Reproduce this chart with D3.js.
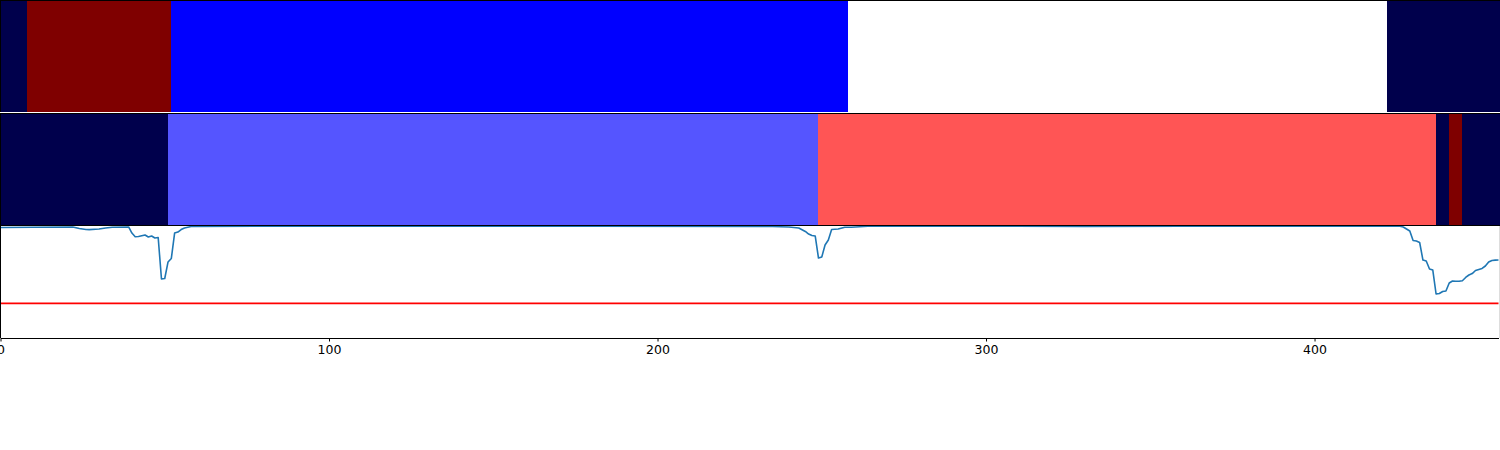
<!DOCTYPE html>
<html>
<head>
<meta charset="utf-8">
<script src="https://cdn.jsdelivr.net/npm/d3@7"></script>
<style>
  html, body { margin: 0; padding: 0; background: #fff; }
  svg { display: block; }
</style>
</head>
<body>
<svg id="chart" width="1500" height="450"></svg>
<script>
// ---- data ----
const xMax = 456;
// panel 1 (state sequence, 5 levels 0..4)
const stripe1Starts = [0, 8, 52, 258, 422];
const stripe1Labels = [0, 4, 1, 2, 0];
const stripe1Levels = 4;
// panel 2 (state sequence, 4 levels 0..3)
const stripe2Starts = [0, 51, 249, 437, 441, 445];
const stripe2Labels = [0, 1, 2, 0, 3, 0];
const stripe2Levels = 3;
// panel 3 line
const lineX = [0, 10, 22, 24, 26, 27, 30, 32, 34, 39, 40, 41, 42, 43, 44, 45, 46, 47, 48, 49, 50, 51, 52, 53, 54, 55, 56, 58, 80,
  120, 180, 235, 240, 243, 245, 246, 247, 248, 249, 250, 251, 252, 253, 255, 257, 259, 264, 300, 330, 360, 400, 426,
  427, 429, 430, 431, 432, 433, 434, 435, 436, 437, 438, 439, 440, 441, 442, 443, 444, 445, 446, 447, 448, 449, 450,
  451, 452, 453, 454, 455, 456];
const lineY = [0.982, 0.984, 0.987, 0.973, 0.964, 0.963, 0.969, 0.978, 0.984, 0.987, 0.933, 0.900, 0.902, 0.909, 0.916,
  0.898, 0.907, 0.889, 0.893, 0.524, 0.529, 0.676, 0.707, 0.933, 0.942, 0.964, 0.978, 0.991, 0.993,
  0.994, 0.993, 0.991, 0.987, 0.978, 0.947, 0.924, 0.911, 0.907, 0.711, 0.720, 0.827, 0.871, 0.964, 0.969, 0.984,
  0.985, 0.993, 0.993, 0.992, 0.993, 0.993, 0.993,
  0.987, 0.951, 0.867, 0.862, 0.849, 0.693, 0.684, 0.613, 0.604, 0.391, 0.396, 0.413, 0.418, 0.489, 0.507, 0.505,
  0.504, 0.509, 0.538, 0.560, 0.573, 0.600, 0.609, 0.618, 0.640, 0.676, 0.689, 0.692, 0.693];
const threshold = 0.308;
const xTicks = [0, 100, 200, 300, 400];

// ---- drawing ----
const svg = d3.select("#chart");
const x = d3.scaleLinear().domain([0, xMax]).range([0.5, 1498.5]);
const seismic = d3.scaleLinear()
  .domain([0, 0.25, 0.5, 0.75, 1])
  .range(["#00004c", "#0000ff", "#ffffff", "#ff0000", "#7f0000"]);

function stripe(starts, labels, levels, y0, y1) {
  const runs = starts.map((s, i) => ({
    start: s,
    end: i < starts.length - 1 ? starts[i + 1] : xMax,
    label: labels[i]
  }));
  svg.append("g").selectAll("rect").data(runs).join("rect")
    .attr("x", d => x(d.start))
    .attr("width", d => x(d.end) - x(d.start) + (d.end === xMax ? 2 : 0))
    .attr("y", y0)
    .attr("height", y1 - y0)
    .attr("fill", d => seismic(d.label / levels))
    .attr("shape-rendering", "crispEdges");
}

// panel geometry
const p1 = [0, 112], p2 = [113, 225.5], p3 = [225.5, 338];
stripe(stripe1Starts, stripe1Labels, stripe1Levels, p1[0], p1[1]);
stripe(stripe2Starts, stripe2Labels, stripe2Levels, p2[0] + 0.5, p2[1]);

// panel 3
const y = d3.scaleLinear().domain([0, 1]).range([p3[1], p3[0]]);
svg.append("defs").append("clipPath").attr("id", "clip3")
  .append("rect").attr("x", 0).attr("y", p3[0]).attr("width", 1500).attr("height", p3[1] - p3[0]);
const g3 = svg.append("g").attr("clip-path", "url(#clip3)");
g3.append("line")
  .attr("x1", x(0)).attr("x2", x(xMax))
  .attr("y1", y(threshold)).attr("y2", y(threshold))
  .attr("stroke", "#ff0000").attr("stroke-width", 1.6);
const pts = lineX.map((v, i) => [v, lineY[i]]);
g3.append("path")
  .datum(pts)
  .attr("fill", "none")
  .attr("stroke", "#1f77b4")
  .attr("stroke-width", 1.6)
  .attr("stroke-linejoin", "round")
  .attr("d", d3.line().x(d => x(d[0])).y(d => y(d[1])));

// frames / spines
const sp = svg.append("g").attr("stroke", "#000").attr("stroke-width", 1).attr("shape-rendering", "crispEdges");
sp.append("line").attr("x1", 0).attr("x2", 1500).attr("y1", 0.5).attr("y2", 0.5);
sp.append("line").attr("x1", 0.5).attr("x2", 0.5).attr("y1", 0).attr("y2", 338);
sp.append("line").attr("x1", 0).attr("x2", 1500).attr("y1", 113.5).attr("y2", 113.5);
sp.append("line").attr("x1", 0).attr("x2", 1500).attr("y1", 225.5).attr("y2", 225.5);
svg.append("line").attr("x1", 1499.5).attr("x2", 1499.5).attr("y1", 226).attr("y2", 338)
  .attr("stroke", "#ddd").attr("shape-rendering", "crispEdges");
svg.append("rect").attr("x", 0).attr("y", 112).attr("width", 1500).attr("height", 1).attr("fill", "#fff");

// x axis
const axis = d3.axisBottom(x).tickValues(xTicks).tickSize(3.5).tickPadding(3.5).tickSizeOuter(0);
const ax = svg.append("g").attr("transform", "translate(0,338)").call(axis);
ax.select(".domain").attr("stroke", "#000").attr("shape-rendering", "crispEdges");
ax.selectAll(".tick line").attr("stroke", "#000");
ax.selectAll(".tick text").attr("fill", "#000")
  .style("font-family", "'DejaVu Sans', sans-serif").style("font-size", "12.5px");
</script>
</body>
</html>
